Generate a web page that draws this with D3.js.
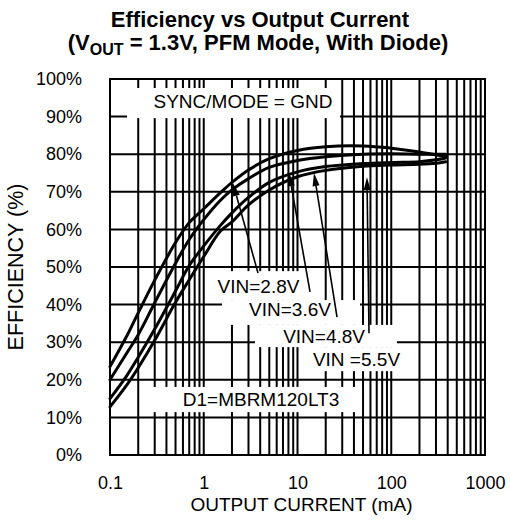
<!DOCTYPE html>
<html><head><meta charset="utf-8">
<script src="https://cdn.jsdelivr.net/npm/d3@7"></script>
<style>
body{margin:0;background:#fff}
svg{display:block}
text{font-family:"Liberation Sans",Arial,Helvetica,sans-serif;fill:#000}
</style>
</head><body>
<svg id="chart" width="510" height="526"></svg>
<script>
// ---------- data ----------
const current = [0.1,0.15,0.2,0.3,0.5,0.7,1,1.5,2,3,5,10,20,50,100,200,300,380]; // mA
const vin28 = [23.5,31.5,37.8,46.5,56.5,61.8,65.5,69.7,72.5,75.8,78.8,81,82,82.2,81.6,80.6,79.8,79.5];
const vin36 = [20,27,32,40.5,51,57.3,62.6,67.7,70.5,73.5,76.5,78.3,79.3,80,80.1,80,80,80];
const vin48 = [15,21,26,33.5,43.6,50.4,55.6,61,64.4,68.5,72.5,75.3,76.7,77.5,77.8,78,78.5,79];
const vin55 = [12.8,18.5,23.2,30.5,40.6,46.6,52.8,59.5,62,66.5,70.5,74,75.7,76.8,77.1,77.3,77.6,78];

const xTickValues = [0.1,1,10,100,1000];
const xTickLabels = ["0.1","1","10","100","1000"];
const yTickValues = [0,10,20,30,40,50,60,70,80,90,100];
const yTickLabels = ["0%","10%","20%","30%","40%","50%","60%","70%","80%","90%","100%"];

// annotations (in data units: mA, %)
const labelText = ["VIN=2.8V","VIN=3.6V","VIN=4.8V","VIN =5.5V","D1=MBRM120LT3","SYNC/MODE = GND"];
const labelX = [3.84,8.32,19.2,42.6,4.08,2.62];
const labelY = [43.1,37.0,29.9,23.7,13.1,92.4];
const arrowTipX = [2.05,8.12,15.0,55.1];
const arrowTipY = [72.3,75.0,75.0,73.9];
const arrowTailX = [3.79,13.6,26.4,57.9];
const arrowTailY = [48.4,43.4,36.7,32.4];
const boxX0 = [0.152,1.22,1.565,3.52,12.0,0.267];
const boxX1 = [28.4,12.0,46.4,115,140,48.8];
const boxYTop = [97.6,48.9,41.2,34.6,28.7,18.1];
const boxYBot = [89.6,41.2,34.6,28.7,22.3,11.4];

// ---------- layout ----------
const svg = d3.select("#chart");
const L = 110, R = 485, T = 79, B = 455;
const x = d3.scaleLog().domain([0.1,1000]).range([L,R]);
const y = d3.scaleLinear().domain([0,100]).range([B,T]);

svg.append("rect").attr("width",510).attr("height",526).attr("fill","#fff");

// minor grid values
const gridX = [];
[0.1,1,10,100].forEach(d=>{ for(let k=1;k<=9;k++) gridX.push(d*k); });
gridX.push(1000);

const grid = svg.append("g").attr("stroke","#000").attr("stroke-width",2);
grid.selectAll("line.v").data(gridX).join("line")
  .attr("x1",d=>x(d)).attr("x2",d=>x(d)).attr("y1",T).attr("y2",B);
grid.selectAll("line.h").data(yTickValues).join("line")
  .attr("x1",L).attr("x2",R).attr("y1",d=>y(d)).attr("y2",d=>y(d));

// white label boxes
svg.append("g").selectAll("rect").data(boxX0).join("rect")
  .attr("x",(d,i)=>x(boxX0[i])).attr("width",(d,i)=>x(boxX1[i])-x(boxX0[i]))
  .attr("y",(d,i)=>y(boxYTop[i])).attr("height",(d,i)=>y(boxYBot[i])-y(boxYTop[i]))
  .attr("fill","#fff");

// frame
svg.append("rect").attr("x",L).attr("y",T).attr("width",R-L).attr("height",B-T)
  .attr("fill","none").attr("stroke","#000").attr("stroke-width",2);

// curves
const series = [vin28,vin36,vin48,vin55];
const line = d3.line().x(d=>x(d[0])).y(d=>y(d[1])).curve(d3.curveCatmullRom.alpha(0.5));
svg.append("g").selectAll("path").data(series).join("path")
  .attr("d",s=>line(current.map((c,i)=>[c,s[i]])))
  .attr("fill","none").attr("stroke","#000").attr("stroke-width",3)
  .attr("stroke-linejoin","round").attr("stroke-linecap","round");

// axes labels
const xAxis = d3.axisBottom(x).tickValues(xTickValues).tickSize(0)
  .tickFormat((d,i)=>xTickLabels[i]);
const gx = svg.append("g").attr("transform",`translate(0,${B})`).call(xAxis);
gx.select(".domain").remove();
gx.selectAll("text").attr("font-size",18).attr("dy",0).attr("y",34)
  .attr("font-family",'"Liberation Sans",Arial,sans-serif').attr("fill","#000");

const yAxis = d3.axisLeft(y).tickValues(yTickValues).tickSize(0)
  .tickFormat((d,i)=>yTickLabels[i]);
const gy = svg.append("g").attr("transform",`translate(${L},0)`).call(yAxis);
gy.select(".domain").remove();
gy.selectAll("text").attr("font-size",18).attr("x",-28)
  .attr("font-family",'"Liberation Sans",Arial,sans-serif').attr("fill","#000");

// axis titles
svg.append("text").attr("x",(L+R)/2+4).attr("y",511).attr("text-anchor","middle")
  .attr("font-size",19).text("OUTPUT CURRENT (mA)");
svg.append("text").attr("transform",`translate(23,267) rotate(-90)`)
  .attr("text-anchor","middle").attr("font-size",21.5).text("EFFICIENCY (%)");

// title
svg.append("text").attr("x",260).attr("y",27).attr("text-anchor","middle")
  .attr("font-size",22).attr("font-weight","bold").text("Efficiency vs Output Current");
const t2 = svg.append("text").attr("x",258).attr("y",50).attr("text-anchor","middle")
  .attr("font-size",22).attr("font-weight","bold");
t2.append("tspan").text("(V");
t2.append("tspan").attr("font-size",16).attr("dy",5).text("OUT");
t2.append("tspan").attr("dy",-5).text(" = 1.3V, PFM Mode, With Diode)");

// annotation labels
svg.append("g").selectAll("text").data(labelText).join("text")
  .attr("x",(d,i)=>x(labelX[i])).attr("y",(d,i)=>y(labelY[i]))
  .attr("text-anchor","middle").attr("font-size",19).text(d=>d);

// arrows
const ag = svg.append("g");
arrowTipX.forEach((tx,i)=>{
  const px = x(tx), py = y(arrowTipY[i]);
  const qx = x(arrowTailX[i]), qy = y(arrowTailY[i]);
  const dx = px-qx, dy = py-qy, len = Math.hypot(dx,dy);
  const ux = dx/len, uy = dy/len;
  const hl = 13, hw = 3.5;
  const bx = px-ux*hl, by = py-uy*hl;
  ag.append("line").attr("x1",qx).attr("y1",qy).attr("x2",bx).attr("y2",by)
    .attr("stroke","#000").attr("stroke-width",1.6);
  ag.append("path").attr("d",`M${px},${py}L${bx-uy*hw},${by+ux*hw}L${bx+uy*hw},${by-ux*hw}Z`)
    .attr("fill","#000");
});
</script>
</body></html>
